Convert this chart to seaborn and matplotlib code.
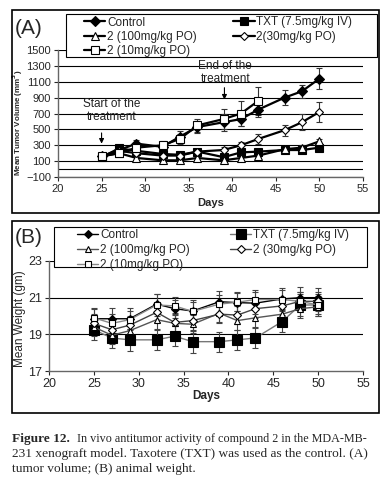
import numpy as np
import pandas as pd
import matplotlib
matplotlib.use("Agg")
import matplotlib.pyplot as plt
import seaborn as sns
from matplotlib.patches import Rectangle

# ---------------- data ----------------
days = [25, 27, 29, 32, 34, 36, 39, 41, 43, 46, 48, 50]
days_10 = [25, 27, 29, 32, 34, 36, 39, 41, 43]

series_names = ["Control", "TXT (7.5mg/kg IV)", "2 (100mg/kg PO)", "2(30mg/kg PO)", "2 (10mg/kg PO)"]
series_names_b = ["Control", "TXT (7.5mg/kg IV)", "2 (100mg/kg PO)", "2 (30mg/kg PO)", "2 (10mg/kg PO)"]

# Panel A: tumor volume (mm3)
vol_control = [160, 240, 320, 280, 410, 530, 590, 630, 750, 900, 980, 1140]
vol_txt = [150, 260, 230, 190, 180, 220, 150, 210, 220, 240, 240, 270]
vol_100 = [160, 200, 140, 110, 110, 140, 110, 140, 170, 250, 270, 350]
vol_30 = [160, 230, 200, 170, 170, 220, 240, 300, 380, 490, 590, 720]
vol_10 = [160, 200, 270, 300, 380, 550, 630, 700, 860]

err_control = [20, 30, 40, 40, 70, 80, 110, 90, 90, 90, 80, 130]
err_txt = [20, 20, 30, 30, 30, 30, 40, 40, 30, 30, 30, 30]
err_100 = [20, 20, 20, 20, 20, 20, 20, 20, 20, 30, 30, 30]
err_30 = [20, 30, 30, 30, 30, 30, 40, 40, 60, 70, 100, 130]
err_10 = [20, 30, 40, 50, 60, 80, 130, 160, 180]

# Panel B: body weight (gm)
wt_control = [19.85, 19.85, 19.85, 20.65, 20.4, 20.27, 20.78, 20.73, 20.7, 20.93, 21.0, 21.0]
wt_txt = [19.25, 18.8, 18.7, 18.7, 18.9, 18.6, 18.6, 18.7, 18.8, 19.7, 20.6, 20.6]
wt_100 = [19.4, 18.95, 19.2, 19.8, 19.6, 19.55, 20.15, 19.75, 19.9, 20.1, 20.4, 20.5]
wt_30 = [19.6, 19.25, 19.5, 20.2, 19.65, 19.75, 20.1, 20.05, 20.4, 20.55, 20.8, 20.8]
wt_10 = [19.9, 19.6, 19.8, 20.6, 20.55, 20.25, 20.65, 20.75, 20.9, 20.9, 20.8, 20.6]

werr_control = [0.6, 0.6, 0.6, 0.55, 0.5, 0.6, 0.6, 0.6, 0.6, 0.6, 0.6, 0.55]
werr_txt = [0.55, 0.55, 0.6, 0.55, 0.55, 0.6, 0.55, 0.55, 0.55, 0.55, 0.6, 0.6]
werr_100 = [0.5, 0.5, 0.5, 0.5, 0.5, 0.5, 0.5, 0.5, 0.5, 0.5, 0.5, 0.5]
werr_30 = [0.5, 0.5, 0.5, 0.5, 0.5, 0.5, 0.5, 0.5, 0.5, 0.5, 0.5, 0.5]
werr_10 = [0.5, 0.5, 0.5, 0.6, 0.5, 0.5, 0.5, 0.5, 0.5, 0.5, 0.5, 0.5]

# ---------------- style ----------------
sns.set_style("white")
plt.rcParams['font.family'] = ['Liberation Sans', 'DejaVu Sans']

W, H = 391, 483
fig = plt.figure(figsize=(W / 100, H / 100), dpi=100)

def fx(px):
    return px / W

def fy(py):
    return 1 - py / H

def frame(x0, y0, x1, y1, lw=1.2, fill=False, z=1):
    r = Rectangle((fx(x0), fy(y1)), fx(x1 - x0), (y1 - y0) / H,
                  transform=fig.transFigure, fill=fill, facecolor="white",
                  edgecolor="black", linewidth=lw, zorder=z)
    fig.add_artist(r)
    return r

# frames around panels
frame(12, 10, 379, 213)
frame(12, 221, 379, 413)

marker_specs = [
    dict(marker="D", mfc="black", mec="black", ms=5),
    dict(marker="s", mfc="black", mec="black", ms=6),
    dict(marker="^", mfc="white", mec="black", ms=5.5),
    dict(marker="D", mfc="white", mec="black", ms=4.5),
    dict(marker="s", mfc="white", mec="black", ms=5.5),
]
order = [0, 2, 4, 1, 3]

# ---------------- Panel A ----------------
axA = fig.add_axes([fx(58), fy(177), fx(305), 127 / H])
a_x = [days, days, days, days, days_10]
a_y = [vol_control, vol_txt, vol_100, vol_30, vol_10]
a_e = [err_control, err_txt, err_100, err_30, err_10]
for yv in range(-100, 1501, 200):
    axA.axhline(yv, color="black", lw=0.8, zorder=0)
axA.axhline(0, color="black", lw=0.8, zorder=0)
for i in range(5):
    sp = marker_specs[i]
    df = pd.DataFrame({"Days": a_x[i], "v": a_y[i]})
    sns.lineplot(data=df, x="Days", y="v", ax=axA, color="black", lw=1.6,
                 marker=sp["marker"], markerfacecolor=sp["mfc"],
                 markeredgecolor=sp["mec"], markersize=sp["ms"],
                 markeredgewidth=0.8, label=series_names[i], zorder=3)
    axA.errorbar(a_x[i], a_y[i], yerr=a_e[i], fmt="none", ecolor="#333333",
                 elinewidth=0.8, capsize=2, capthick=0.8, zorder=2)
axA.set_xlim(20, 55)
axA.set_ylim(-100, 1500)
axA.set_xticks(range(20, 56, 5))
axA.set_yticks(range(-100, 1501, 200))
axA.tick_params(axis="both", labelsize=8, length=3, width=0.8, direction="out",
                bottom=True, left=True, pad=2)
for s in ["top", "right"]:
    axA.spines[s].set_visible(False)
for s in ["left", "bottom"]:
    axA.spines[s].set_color("#666666")
    axA.spines[s].set_linewidth(1.0)
axA.set_xlabel("Days", fontsize=8, fontweight="bold", labelpad=3)
axA.set_ylabel("Mean Tumor Volume (mm$^\\mathbf{3}$)", fontsize=5.8, fontweight="bold")
axA.yaxis.set_label_coords((25 - 58) / 305, 0.43)

axA.text(26.2, 740, "Start of the\ntreatment", ha="center", va="center",
         fontsize=8.5, color="#222222", linespacing=1.15)
axA.annotate("", xy=(25, 285), xytext=(25, 490),
             arrowprops=dict(arrowstyle="-|>", color="black", lw=0.8, mutation_scale=7))
axA.text(39.2, 1215, "End of the\ntreatment", ha="center", va="center",
         fontsize=8.5, color="#222222", linespacing=1.15)
axA.annotate("", xy=(39.1, 840), xytext=(39.1, 1060),
             arrowprops=dict(arrowstyle="-|>", color="black", lw=0.8, mutation_scale=7))

frame(66, 14, 377, 57, lw=0.8, fill=True, z=5)
hA, lA = axA.get_legend_handles_labels()
axA.legend_.remove()
legA = fig.legend([hA[k] for k in order], [lA[k] for k in order], ncol=2,
                  loc="upper left", bbox_to_anchor=(fx(84), fy(16.5)),
                  bbox_transform=fig.transFigure, fontsize=8.5, frameon=False,
                  borderpad=0.0, labelspacing=0.2, handlelength=1.8,
                  handletextpad=0.15, columnspacing=3.1, borderaxespad=0)
legA.set_zorder(6)
fig.text(fx(15), fy(28), "(A)", fontsize=15, va="center", ha="left")

# ---------------- Panel B ----------------
axB = fig.add_axes([fx(49), fy(371), fx(314), 110 / H])
b_y = [wt_control, wt_txt, wt_100, wt_30, wt_10]
b_e = [werr_control, werr_txt, werr_100, werr_30, werr_10]
b_line = ["black", "#777777", "#555555", "#444444", "#888888"]
b_ms = [4.5, 7, 5, 4.5, 5]
for yv in [19, 21, 23]:
    axB.axhline(yv, color="black", lw=0.8, zorder=0)
for i in range(5):
    sp = marker_specs[i]
    df = pd.DataFrame({"Days": days, "v": b_y[i]})
    sns.lineplot(data=df, x="Days", y="v", ax=axB, color=b_line[i], lw=1.0,
                 marker=sp["marker"], markerfacecolor=sp["mfc"],
                 markeredgecolor="black", markersize=b_ms[i],
                 markeredgewidth=0.8, label=series_names_b[i], zorder=3)
    axB.errorbar(days, b_y[i], yerr=b_e[i], fmt="none", ecolor="#444444",
                 elinewidth=0.8, capsize=2, capthick=0.8, zorder=2)
axB.set_xlim(20, 55)
axB.set_ylim(17, 23)
axB.set_xticks(range(20, 56, 5))
axB.set_yticks([17, 19, 21, 23])
axB.tick_params(axis="both", labelsize=9, length=3, width=0.8, direction="out",
                bottom=True, left=True, pad=2)
for s in ["top", "right"]:
    axB.spines[s].set_visible(False)
for s in ["left", "bottom"]:
    axB.spines[s].set_color("#666666")
    axB.spines[s].set_linewidth(1.0)
axB.set_xlabel("Days", fontsize=8.5, fontweight="bold", labelpad=0)
axB.set_ylabel("Mean Weight (gm)", fontsize=8.5)
axB.yaxis.set_label_coords((26 - 49) / 314, 0.48)

frame(54, 227, 367, 267, lw=0.8, fill=True, z=5)
hB, lB = axB.get_legend_handles_labels()
axB.legend_.remove()
legB = fig.legend([hB[k] for k in order], [lB[k] for k in order], ncol=2,
                  loc="upper left", bbox_to_anchor=(fx(77), fy(229)),
                  bbox_transform=fig.transFigure, fontsize=8.5, frameon=False,
                  borderpad=0.0, labelspacing=0.26, handlelength=1.8,
                  handletextpad=0.15, columnspacing=3.4, borderaxespad=0)
legB.set_zorder(6)
fig.text(fx(15), fy(238), "(B)", fontsize=15, va="center", ha="left")

# ---------------- caption ----------------
serif = ['Liberation Serif', 'DejaVu Serif']
line2 = "231 xenograft model. Taxotere (TXT) was used as the control. (A)"
line3 = "tumor volume; (B) animal weight."
t2 = fig.text(fx(12), fy(454), line2, fontsize=9, family=serif, va="center", ha="left")
fig.canvas.draw()
r = fig.canvas.get_renderer()
fs = 9 * 355 / t2.get_window_extent(r).width
t2.set_fontsize(fs)
t0 = fig.text(fx(12), fy(439), "Figure 12.", fontsize=fs, fontweight="bold",
              family=serif, va="center", ha="left")
t1 = fig.text(fx(367), fy(439), "In vivo antitumor activity of compound 2 in the MDA-MB-",
              fontsize=fs, family=serif, va="center", ha="right")
t3 = fig.text(fx(12), fy(469), line3, fontsize=fs, family=serif, va="center", ha="left")
fig.canvas.draw()
w0 = t0.get_window_extent(r)
w1 = t1.get_window_extent(r)
avail = 367 - (w0.x1 + 8)
if w1.width > avail:
    t1.set_fontsize(fs * avail / w1.width)

fig.savefig("out.png", dpi=100)
